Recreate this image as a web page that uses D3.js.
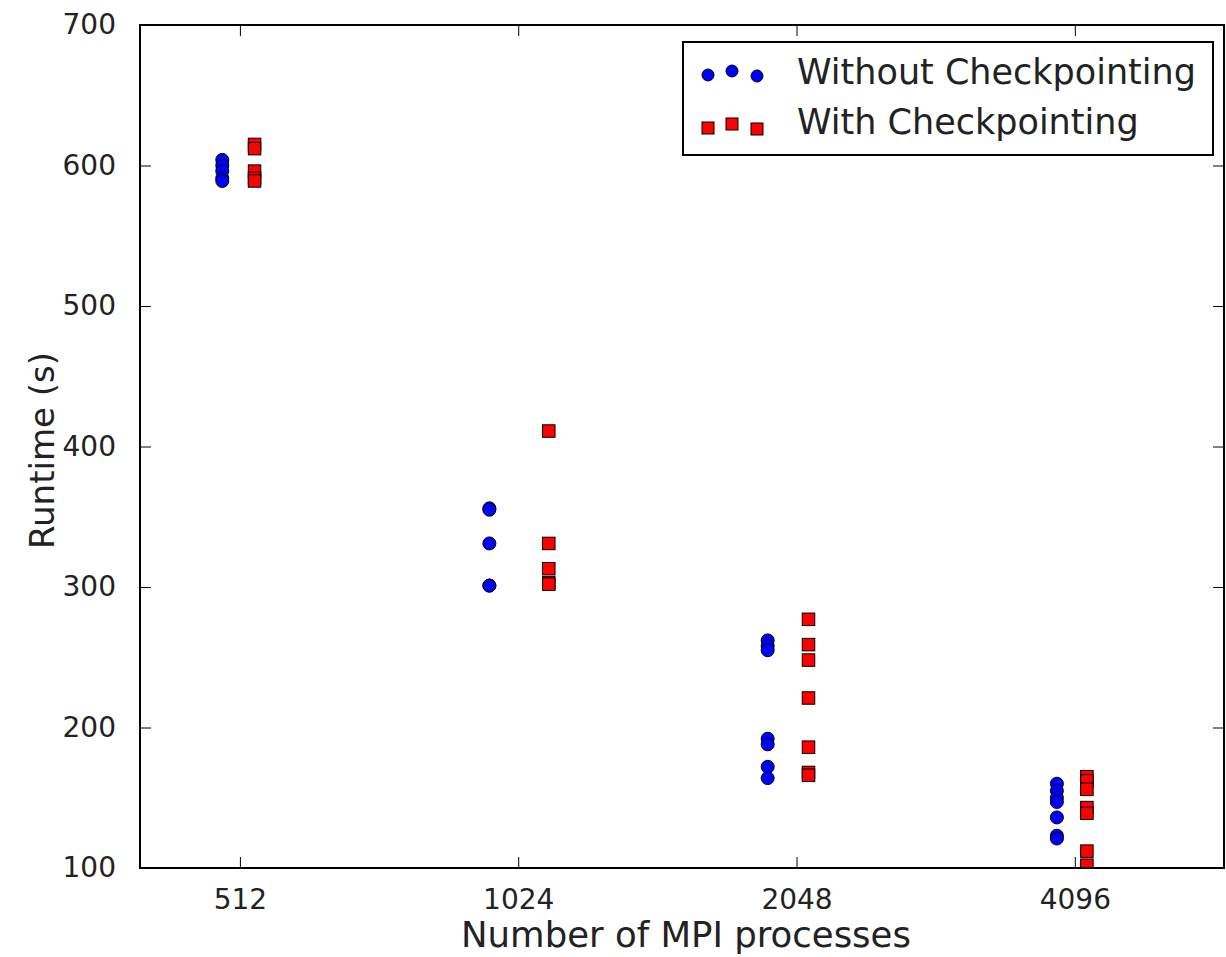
<!DOCTYPE html>
<html>
<head>
<meta charset="utf-8">
<script src="https://cdn.jsdelivr.net/npm/d3@7"></script>
<style>
    body { margin: 0; background: #fff; }
    svg { display: block; font-family: "DejaVu Sans", sans-serif; }
</style>
</head>
<body>
<div id="chart"></div>
<script>
// Data
const procCounts = [512, 1024, 2048, 4096];
const xWithout = [490, 953, 1906, 3917];   // blue points sit a little left of the tick
const xWith = [531, 1105, 2110, 4221];     // red points sit a little right of the tick
const runtimeWithout = [
    [604, 600, 596, 591, 589],
    [356, 355, 331, 301, 301],
    [262, 258, 255, 192, 188, 172, 164],
    [160, 155, 150, 147, 136, 123, 121]
];
const runtimeWith = [
    [615, 612, 596, 591, 589],
    [411, 331, 313, 303, 302],
    [277, 259, 248, 221, 186, 168, 166],
    [165, 162, 156, 143, 139, 112, 102]
];
const yTicks = [100, 200, 300, 400, 500, 600, 700];
const seriesNames = ["Without Checkpointing", "With Checkpointing"];

const width = 1226, height = 957;
const margin = { top: 25, right: 2, bottom: 89, left: 140 };

const svg = d3.select("#chart")
    .append("svg")
    .attr("width", width)
    .attr("height", height);

const x = d3.scaleLog().base(2)
    .domain([399.2, 5939])
    .range([margin.left, width - margin.right]);

const y = d3.scaleLinear()
    .domain([100, 700])
    .range([height - margin.bottom, margin.top]);

const tickLen = 11;
const tickFont = "28px";

// clip markers to the axes box like matplotlib does
svg.append("clipPath").attr("id", "plot-clip")
    .append("rect")
    .attr("x", margin.left).attr("y", margin.top)
    .attr("width", width - margin.left - margin.right)
    .attr("height", height - margin.top - margin.bottom);

// Flatten the series into points
function flatten(xs, vals) {
    const pts = [];
    vals.forEach((arr, i) => arr.forEach(v => pts.push({ x: xs[i], y: v })));
    return pts;
}
const ptsWithout = flatten(xWithout, runtimeWithout);
const ptsWith = flatten(xWith, runtimeWith);

const marks = svg.append("g").attr("clip-path", "url(#plot-clip)");

marks.selectAll("circle.without")
    .data(ptsWithout)
    .enter().append("circle")
    .attr("class", "without")
    .attr("cx", d => x(d.x))
    .attr("cy", d => y(d.y))
    .attr("r", 6.5)
    .attr("fill", "#0000ff")
    .attr("stroke", "#000")
    .attr("stroke-width", 1);

const sq = 12.5;
marks.selectAll("rect.with")
    .data(ptsWith)
    .enter().append("rect")
    .attr("class", "with")
    .attr("x", d => x(d.x) - sq / 2)
    .attr("y", d => y(d.y) - sq / 2)
    .attr("width", sq)
    .attr("height", sq)
    .attr("fill", "#ff0000")
    .attr("stroke", "#000")
    .attr("stroke-width", 1);

// Axes (classic style: ticks inside on all four sides)
const xBottom = d3.axisBottom(x).tickValues(procCounts).tickFormat(d3.format("d"))
    .tickSizeInner(-tickLen).tickSizeOuter(0).tickPadding(tickLen + 10);
const xTop = d3.axisTop(x).tickValues(procCounts).tickFormat("")
    .tickSizeInner(-tickLen).tickSizeOuter(0);
const yLeft = d3.axisLeft(y).tickValues(yTicks)
    .tickSizeInner(-tickLen).tickSizeOuter(0).tickPadding(tickLen + 13);
const yRight = d3.axisRight(y).tickValues(yTicks).tickFormat("")
    .tickSizeInner(-tickLen).tickSizeOuter(0);

function styleAxis(g) {
    g.select(".domain").remove();
    g.selectAll(".tick line").attr("stroke", "#000").attr("stroke-width", 1);
    g.selectAll("text").attr("fill", "#222").style("font-size", tickFont)
        .style("font-family", "'DejaVu Sans', sans-serif");
}

svg.append("g").attr("transform", `translate(0,${height - margin.bottom})`).call(xBottom).call(styleAxis);
svg.append("g").attr("transform", `translate(0,${margin.top})`).call(xTop).call(styleAxis);
svg.append("g").attr("transform", `translate(${margin.left},0)`).call(yLeft).call(styleAxis);
svg.append("g").attr("transform", `translate(${width - margin.right},0)`).call(yRight).call(styleAxis);

// Frame
svg.append("rect")
    .attr("x", margin.left)
    .attr("y", margin.top)
    .attr("width", width - margin.left - margin.right)
    .attr("height", height - margin.top - margin.bottom)
    .attr("fill", "none")
    .attr("stroke", "#000")
    .attr("stroke-width", 2);

// Axis labels
svg.append("text")
    .attr("x", 686)
    .attr("y", 947)
    .attr("text-anchor", "middle")
    .attr("fill", "#222")
    .style("font-size", "35.5px")
    .text("Number of MPI processes");

svg.append("text")
    .attr("transform", `translate(54,${(margin.top + height - margin.bottom) / 2 + 4}) rotate(-90)`)
    .attr("text-anchor", "middle")
    .attr("fill", "#222")
    .style("font-size", "34px")
    .text("Runtime (s)");

// Legend box
const legend = svg.append("g");
legend.append("rect")
    .attr("x", 683).attr("y", 42)
    .attr("width", 530).attr("height", 113)
    .attr("fill", "#fff")
    .attr("stroke", "#000")
    .attr("stroke-width", 2);

// three scatter points per entry, at staggered heights
const legendDx = [708, 732, 757];
const legendDy = [4, 0, 5];

legend.selectAll("circle")
    .data(legendDx)
    .enter().append("circle")
    .attr("cx", d => d)
    .attr("cy", (d, i) => 71 + legendDy[i])
    .attr("r", 6)
    .attr("fill", "#0000ff")
    .attr("stroke", "#000")
    .attr("stroke-width", 1);

legend.selectAll("rect.lg")
    .data(legendDx)
    .enter().append("rect")
    .attr("class", "lg")
    .attr("x", d => d - 6)
    .attr("y", (d, i) => 124 + legendDy[i] - 6)
    .attr("width", 12)
    .attr("height", 12)
    .attr("fill", "#ff0000")
    .attr("stroke", "#000")
    .attr("stroke-width", 1);

legend.selectAll("text")
    .data(seriesNames)
    .enter().append("text")
    .attr("x", 797)
    .attr("y", (d, i) => 84 + i * 50)
    .attr("fill", "#222")
    .style("font-size", "35px")
    .text(d => d);
</script>
</body>
</html>
